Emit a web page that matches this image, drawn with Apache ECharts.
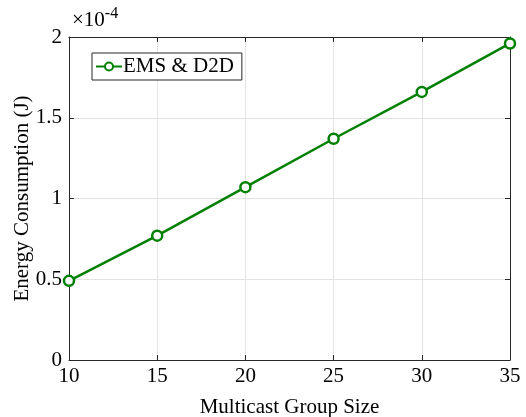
<!DOCTYPE html>
<html>
<head>
<meta charset="utf-8">
<script src="https://cdn.jsdelivr.net/npm/echarts@6/dist/echarts.min.js"></script>
<style>
  html, body { margin: 0; padding: 0; background: #fff; }
  #chart { width: 526px; height: 417px; }
</style>
</head>
<body>
<div id="chart"></div>
<script>
// group size vs energy (in units of 1e-4 J)
var groupSizes = [10, 15, 20, 25, 30, 35];
var energyValues = [0.49, 0.77, 1.07, 1.37, 1.66, 1.96];
var seriesName = 'EMS & D2D';

var chart = echarts.init(document.getElementById('chart'));
var font = 'Liberation Serif, Times New Roman, serif';
var axisColor = '#262626';
var fs = 21;

var points = groupSizes.map(function (x, i) { return [x, energyValues[i]]; });

var baseX = {
    type: 'value', min: 10, max: 35, interval: 5,
    axisLine: { show: true, onZero: false, lineStyle: { color: axisColor, width: 1 } },
    axisTick: { show: true, inside: true, length: 5, lineStyle: { color: axisColor } }
};
var baseY = {
    type: 'value', min: 0, max: 2, interval: 0.5,
    axisLine: { show: true, onZero: false, lineStyle: { color: axisColor, width: 1 } },
    axisTick: { show: true, inside: true, length: 5, lineStyle: { color: axisColor } }
};

var option = {
    animation: false,
    grid: { left: 69, right: 16, top: 37, bottom: 57, containLabel: false, outerBoundsMode: 'none' },
    legend: {
        data: [seriesName],
        left: 92, top: 53,
        orient: 'vertical',
        backgroundColor: '#fff',
        borderColor: axisColor,
        borderWidth: 1,
        borderRadius: 0,
        padding: [3, 8, 3, 3],
        itemWidth: 26, itemHeight: 10, itemGap: 2,
        textStyle: { fontFamily: font, fontSize: fs, color: '#000', padding: [0, 0, 0, -4] }
    },
    xAxis: [
        Object.assign({}, baseX, {
            position: 'bottom',
            name: 'Multicast Group Size',
            nameLocation: 'middle',
            nameGap: 37,
            nameMoveOverlap: false,
            nameTextStyle: { fontFamily: font, fontSize: fs, color: '#000' },
            axisLabel: { fontFamily: font, fontSize: fs, color: '#000', margin: 6 },
            splitLine: { show: true, lineStyle: { color: '#e3e3e3' } }
        }),
        Object.assign({}, baseX, {
            position: 'top',
            axisLabel: { show: false },
            splitLine: { show: false }
        })
    ],
    yAxis: [
        Object.assign({}, baseY, {
            position: 'left',
            name: 'Energy Consumption (J)',
            nameLocation: 'middle',
            nameGap: 36,
            nameMoveOverlap: false,
            nameTextStyle: { fontFamily: font, fontSize: fs, color: '#000' },
            axisLabel: {
                fontFamily: font, fontSize: fs, color: '#000', margin: 7,
                formatter: function (v) { return String(v); }
            },
            splitLine: { show: true, lineStyle: { color: '#e3e3e3' } }
        }),
        Object.assign({}, baseY, {
            position: 'right',
            axisLabel: { show: false },
            splitLine: { show: false }
        })
    ],
    graphic: [{
        type: 'text',
        left: 72, top: 6,
        style: {
            text: '×10{sup|-4}',
            fontFamily: font,
            fontSize: fs,
            fill: '#000',
            rich: { sup: { fontFamily: font, fontSize: 16, verticalAlign: 'top', padding: [0, 0, 12, 0] } }
        }
    }],
    series: [{
        name: seriesName,
        type: 'line',
        data: points,
        symbol: 'circle',
        symbolSize: 10,
        lineStyle: { color: '#008000', width: 2.5 },
        itemStyle: { color: '#fff', borderColor: '#008000', borderWidth: 2.5 }
    }]
};

chart.setOption(option);
window.addEventListener('resize', function () {
    chart.resize();
});
</script>
</body>
</html>
